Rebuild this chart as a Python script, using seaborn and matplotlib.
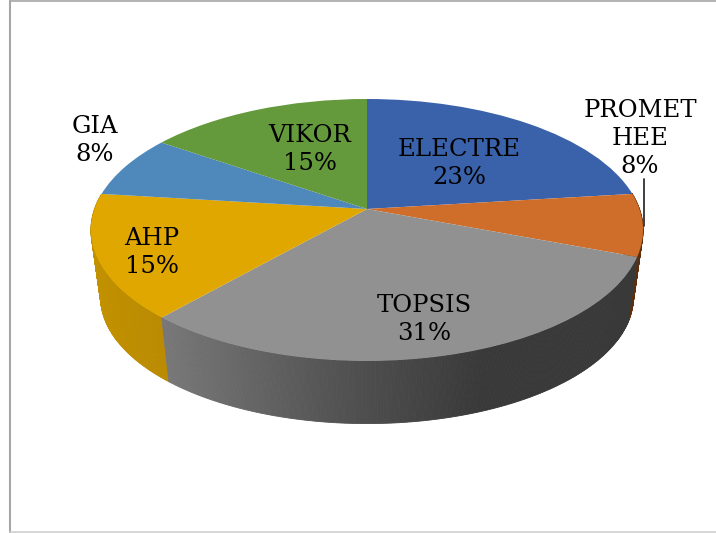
import matplotlib
matplotlib.use("Agg")
import matplotlib.pyplot as plt
from matplotlib.transforms import Transform
import numpy as np
import seaborn as sns

# method counts, percentages on the labels come from these
methods = ["ELECTRE", "PROMETHEE", "TOPSIS", "AHP", "GIA", "VIKOR"]
counts = [3, 1, 4, 2, 1, 2]
top_colors = ["#3a62aa", "#cf6e2a", "#919191", "#e0a700", "#4f88bb", "#64993c"]
label_text = ["ELECTRE", "PROMET\nHEE", "TOPSIS", "AHP", "GIA", "VIKOR"]

sns.set_theme(style="white")
plt.rcParams["font.family"] = ["DejaVu Serif"]

# tilted disc, far side is squeezed a bit
CX, CY = 367, 209
A, B, K = 272.5, 127.6, 0.16
LOW_SCALE, LOW_SHIFT = 0.965, 68


def project(xy, scale=1.0, shift=0.0):
    xy = np.asarray(xy, dtype=float)
    w = 1 + K * xy[:, 1]
    sx = CX + scale * A * xy[:, 0] / w
    sy = CY + shift - scale * B * xy[:, 1] / w
    return np.column_stack([sx, sy])


class Tilt(Transform):
    input_dims = 2
    output_dims = 2
    is_affine = False

    def transform_non_affine(self, values):
        return project(values)


fig = plt.figure(figsize=(7.16, 5.33), dpi=100)
ax = fig.add_axes([0, 0, 1, 1])
wedges, _ = ax.pie(counts, colors=top_colors, startangle=90, counterclock=False,
                   wedgeprops={"linewidth": 0})
ax.set_aspect("auto")
ax.set_xlim(0, 716)
ax.set_ylim(533, 0)
ax.axis("off")


def side_color(i, x):
    if i == 2:  # grey side goes dark to the right
        v = np.interp(x, [165, 330, 480], [0.47, 0.33, 0.225])
        return (v, v, v)
    if i == 3:
        v = np.interp(x, [95, 165], [0.0, 1.0])
        return (0.76 - 0.03 * v, 0.57 - 0.03 * v, 0.0)
    return (0.36, 0.19, 0.06)


# side wall, only front wedges show
for i in [1, 3, 2]:
    t1, t2 = wedges[i].theta1, wedges[i].theta2
    ang = np.radians(np.arange(t1, t2 + 0.5, 0.5))
    unit = np.column_stack([np.cos(ang), np.sin(ang)])
    up = project(unit)
    lo = project(unit, LOW_SCALE, LOW_SHIFT)
    for j in range(len(ang) - 1):
        qx = [up[j, 0], up[j + 1, 0], lo[j + 1, 0], lo[j, 0]]
        qy = [up[j, 1], up[j + 1, 1], lo[j + 1, 1], lo[j, 1]]
        c = side_color(i, np.mean(qx))
        ax.fill(qx, qy, color=c, lw=0.6, zorder=1)

tilt = Tilt()
for w in wedges:
    w.set_transform(tilt + ax.transData)
    w.set_zorder(2)

total = sum(counts)
label_pos = [(459, 163.5), (640, 138.5), (424.5, 319.5), (151.5, 252.5), (95, 140.5), (309.5, 149.5)]
for name, c, (x, y) in zip(label_text, counts, label_pos):
    ax.text(x, y, f"{name}\n{round(100 * c / total)}%", ha="center", va="center",
            fontsize=17.5, color="black", linespacing=1.3, zorder=4)

# leader line for PROMETHEE
ax.plot([643.5, 643.5], [179, 226], color="#303030", lw=1.3, zorder=4)

# page frame
ax.plot([10, 10], [1, 533], color="#a6a6a6", lw=1.5, zorder=0)
ax.plot([10, 716], [1, 1], color="#a6a6a6", lw=1.2, zorder=0)
ax.plot([10, 716], [532, 532], color="#d0d0d0", lw=1.2, zorder=0)

fig.savefig("out.png", dpi=100)
